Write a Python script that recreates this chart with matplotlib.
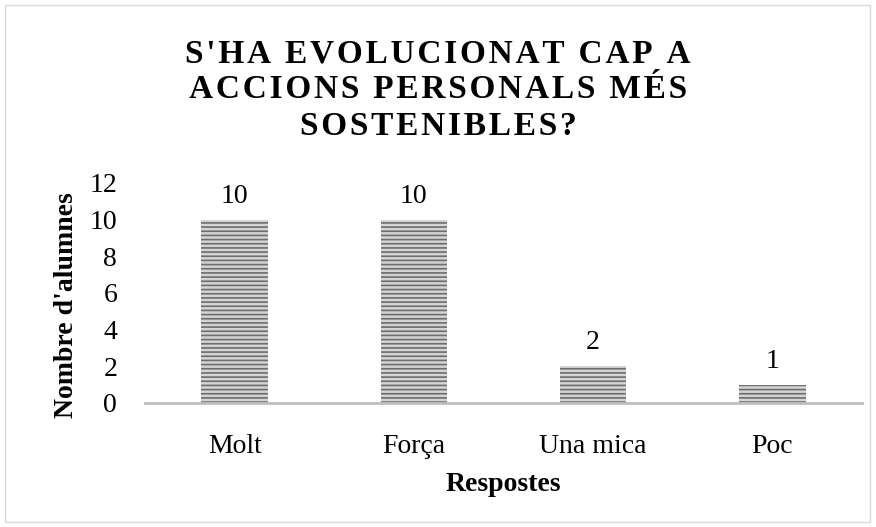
import matplotlib.pyplot as plt
import numpy as np

# Données
respostes = ["Molt", "Força", "Una mica", "Poc"]
alumnes = [10, 10, 2, 1]
yticks = [0, 2, 4, 6, 8, 10, 12]
titol = ["S'HA EVOLUCIONAT CAP A", "ACCIONS PERSONALS MÉS", "SOSTENIBLES?"]

plt.rcParams['font.family'] = ['Liberation Serif', 'DejaVu Serif']
plt.rcParams['hatch.linewidth'] = 1.2
plt.rcParams['hatch.color'] = '#6e6e6e'

fig = plt.figure(figsize=(8.76, 5.27), dpi=100)
ax = fig.add_axes([145/876, 1 - 403/527, 717/876, 220/527])

x = np.arange(len(respostes))
barres = ax.bar(x, alumnes, width=0.37, color='#d4d4d4', hatch='----', edgecolor='#6e6e6e', linewidth=0)

for xi, v in zip(x, alumnes):
    ax.annotate(str(v), (xi, v), xytext=(0, 8), textcoords='offset points',
                ha='center', va='bottom', fontsize=20)

ax.set_xlim(-0.5, 3.5)
ax.set_ylim(0, 12)
ax.set_yticks(yticks)
ax.set_xticks(x)
ax.set_xticklabels(respostes)
ax.tick_params(axis='both', length=0, labelsize=20)
ax.tick_params(axis='x', pad=22)
ax.tick_params(axis='y', pad=20)
for s in ['top', 'right', 'left']:
    ax.spines[s].set_visible(False)
ax.spines['bottom'].set_color('#bfbfbf')
ax.spines['bottom'].set_linewidth(2)

ax.set_xlabel("Respostes", fontsize=20, fontweight='bold', labelpad=10)
ax.set_ylabel("Nombre d'alumnes", fontsize=20, fontweight='bold')
ax.yaxis.set_label_coords(-0.092, 0.445)

# titre avec espacement des lettres
espace = '\u200a'
titre = "\n".join(espace.join(l) for l in titol)
fig.text(0.5, 1 - 90/527, titre, ha='center', va='center', fontsize=24,
         fontweight='bold', linespacing=1.22)

# cadre
fig.patches.append(plt.Rectangle((5/876, 5/527), 865/876, 517/527, transform=fig.transFigure,
                                 fill=False, edgecolor='#d9d9d9', linewidth=1))

plt.savefig("out.png", dpi=100)
